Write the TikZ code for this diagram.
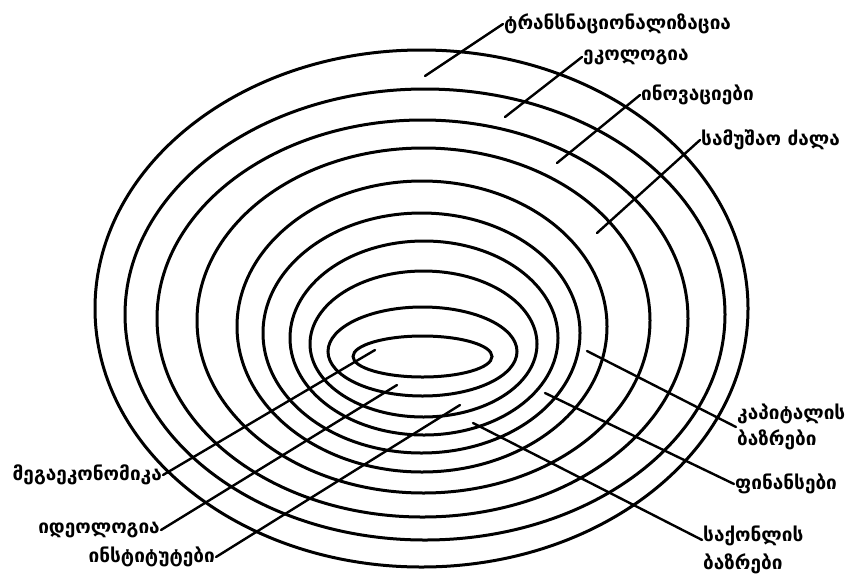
\documentclass[tikz,border=0pt]{standalone}
\usepackage{fontspec}
\newfontfamily\geofont{DejaVu Sans}
\usetikzlibrary{calc}

\begin{document}
\begin{tikzpicture}[x=1pt, y=-1pt, line cap=round,
  ring/.style={line width=3pt},
  leader/.style={line width=2.4pt},
  lbl/.style={font=\geofont\bfseries\fontsize{19}{26}\selectfont, inner sep=1pt, align=left}]

\useasboundingbox (0,0) rectangle (858,579);

% Nested rings (centre x / centre y / x radius / y radius)
\foreach \cx/\cy/\rx/\ry in {422.5/356.5/69.5/20.5, 422.5/351.5/94.5/44.5,
    423.5/344/113.5/73, 424/338/134/97, 421.5/333/158.5/120,
    422/326.5/185/145.5, 423.5/320.5/226.5/172.5, 422.5/318.5/265.5/198.5,
    425/314.5/300/225.5, 421.5/308.5/326.5/258.5}
  \draw[ring] (\cx,\cy) ellipse [x radius=\rx pt, y radius=\ry pt];

% Upper right labels
\coordinate (cTrans) at (425,76);
\node[lbl, anchor=west] (trans) at (503,24) {ტრანსნაციონალიზაცია};
\draw[leader] (cTrans) -- (trans.west);

\coordinate (cEco) at (505,117);
\node[lbl, anchor=west] (eco) at (582,57) {ეკოლოგია};
\draw[leader] (cEco) -- (eco.west);

\coordinate (cInnov) at (557,163);
\node[lbl, anchor=west] (innov) at (640,95) {ინოვაციები};
\draw[leader] (cInnov) -- (innov.west);

\coordinate (cLabour) at (597,233);
\node[lbl, anchor=west] (labour) at (700,140) {სამუშაო ძალა};
\draw[leader] (cLabour) -- (labour.west);

% Lower right labels
\coordinate (cCapital) at (587,351);
\node[lbl, anchor=west] (capital) at (736,427) {კაპიტალის\\ბაზრები};
\draw[leader] (cCapital) -- (capital.west);

\coordinate (cFinance) at (545,393);
\node[lbl, anchor=west] (finance) at (734,484) {ფინანსები};
\draw[leader] (cFinance) -- (finance.west);

\coordinate (cGoods) at (473,423);
\node[lbl, anchor=west] (goods) at (702,550) {საქონლის\\[2pt]ბაზრები};
\draw[leader] (cGoods) -- ($(goods.north west)!0.3!(goods.south west)$);

% Lower left labels
\coordinate (cMega) at (375,350);
\node[lbl, anchor=east] (mega) at (163,475) {მეგაეკონომიკა};
\draw[leader] (cMega) -- (mega.east);

\coordinate (cIdeo) at (397,385);
\node[lbl, anchor=east] (ideo) at (161,530) {იდეოლოგია};
\draw[leader] (cIdeo) -- (ideo.east);

\coordinate (cInst) at (460,405);
\node[lbl, anchor=east] (inst) at (216,557) {ინსტიტუტები};
\draw[leader] (cInst) -- (inst.east);

\end{tikzpicture}
\end{document}
